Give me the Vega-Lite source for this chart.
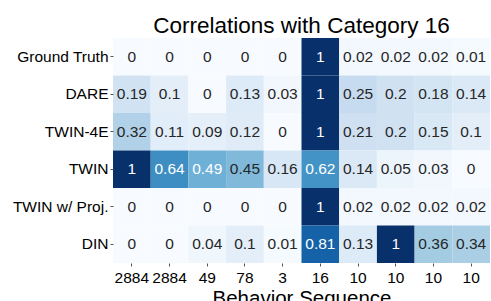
{
  "$schema": "https://vega.github.io/schema/vega-lite/v6.json",
  "autosize": "none",
  "padding": {"left": 113, "top": 38, "right": 1, "bottom": 38},
  "width": 377,
  "height": 225,
  "title": {"text": "Correlations with Category 16", "font": "Liberation Sans", "fontSize": 22.5, "fontWeight": "normal", "color": "black", "offset": 1},
  "config": {
    "view": {"stroke": null},
    "font": "Liberation Sans",
    "axis": {"domain": false, "labelFont": "Liberation Sans", "labelFontSize": 15.5, "labelColor": "black", "tickColor": "#555", "tickSize": 3, "labelPadding": 4, "titleFont": "Liberation Sans", "titleFontWeight": "normal", "titleColor": "black"}
  },
  "data": {"values": [
    {"model": "Ground Truth", "col": 0, "v": 0}, {"model": "Ground Truth", "col": 1, "v": 0}, {"model": "Ground Truth", "col": 2, "v": 0}, {"model": "Ground Truth", "col": 3, "v": 0}, {"model": "Ground Truth", "col": 4, "v": 0}, {"model": "Ground Truth", "col": 5, "v": 1}, {"model": "Ground Truth", "col": 6, "v": 0.02}, {"model": "Ground Truth", "col": 7, "v": 0.02}, {"model": "Ground Truth", "col": 8, "v": 0.02}, {"model": "Ground Truth", "col": 9, "v": 0.01},
    {"model": "DARE", "col": 0, "v": 0.19}, {"model": "DARE", "col": 1, "v": 0.1}, {"model": "DARE", "col": 2, "v": 0}, {"model": "DARE", "col": 3, "v": 0.13}, {"model": "DARE", "col": 4, "v": 0.03}, {"model": "DARE", "col": 5, "v": 1}, {"model": "DARE", "col": 6, "v": 0.25}, {"model": "DARE", "col": 7, "v": 0.2}, {"model": "DARE", "col": 8, "v": 0.18}, {"model": "DARE", "col": 9, "v": 0.14},
    {"model": "TWIN-4E", "col": 0, "v": 0.32}, {"model": "TWIN-4E", "col": 1, "v": 0.11}, {"model": "TWIN-4E", "col": 2, "v": 0.09}, {"model": "TWIN-4E", "col": 3, "v": 0.12}, {"model": "TWIN-4E", "col": 4, "v": 0}, {"model": "TWIN-4E", "col": 5, "v": 1}, {"model": "TWIN-4E", "col": 6, "v": 0.21}, {"model": "TWIN-4E", "col": 7, "v": 0.2}, {"model": "TWIN-4E", "col": 8, "v": 0.15}, {"model": "TWIN-4E", "col": 9, "v": 0.1},
    {"model": "TWIN", "col": 0, "v": 1}, {"model": "TWIN", "col": 1, "v": 0.64}, {"model": "TWIN", "col": 2, "v": 0.49}, {"model": "TWIN", "col": 3, "v": 0.45}, {"model": "TWIN", "col": 4, "v": 0.16}, {"model": "TWIN", "col": 5, "v": 0.62}, {"model": "TWIN", "col": 6, "v": 0.14}, {"model": "TWIN", "col": 7, "v": 0.05}, {"model": "TWIN", "col": 8, "v": 0.03}, {"model": "TWIN", "col": 9, "v": 0},
    {"model": "TWIN w/ Proj.", "col": 0, "v": 0}, {"model": "TWIN w/ Proj.", "col": 1, "v": 0}, {"model": "TWIN w/ Proj.", "col": 2, "v": 0}, {"model": "TWIN w/ Proj.", "col": 3, "v": 0}, {"model": "TWIN w/ Proj.", "col": 4, "v": 0}, {"model": "TWIN w/ Proj.", "col": 5, "v": 1}, {"model": "TWIN w/ Proj.", "col": 6, "v": 0.02}, {"model": "TWIN w/ Proj.", "col": 7, "v": 0.02}, {"model": "TWIN w/ Proj.", "col": 8, "v": 0.02}, {"model": "TWIN w/ Proj.", "col": 9, "v": 0.02},
    {"model": "DIN", "col": 0, "v": 0}, {"model": "DIN", "col": 1, "v": 0}, {"model": "DIN", "col": 2, "v": 0.04}, {"model": "DIN", "col": 3, "v": 0.1}, {"model": "DIN", "col": 4, "v": 0.01}, {"model": "DIN", "col": 5, "v": 0.81}, {"model": "DIN", "col": 6, "v": 0.13}, {"model": "DIN", "col": 7, "v": 1}, {"model": "DIN", "col": 8, "v": 0.36}, {"model": "DIN", "col": 9, "v": 0.34}
  ]},
  "encoding": {
    "x": {"field": "col", "type": "ordinal", "scale": {"paddingInner": 0, "paddingOuter": 0},
      "axis": {"title": "Behavior Sequence", "titleFontSize": 20.5, "titlePadding": 3, "labelAngle": 0,
        "labelExpr": "['2884','2884','49','78','3','16','10','10','10','10'][datum.value]"}},
    "y": {"field": "model", "type": "nominal", "sort": ["Ground Truth", "DARE", "TWIN-4E", "TWIN", "TWIN w/ Proj.", "DIN"],
      "scale": {"paddingInner": 0, "paddingOuter": 0}, "axis": {"title": null, "labelPadding": 2}}
  },
  "layer": [
    {"mark": {"type": "rect", "strokeWidth": 0},
      "encoding": {"color": {"field": "v", "type": "quantitative", "legend": null,
        "scale": {"domain": [0, 0.125, 0.25, 0.375, 0.5, 0.625, 0.75, 0.875, 1],
          "range": ["#f7fbff", "#deebf7", "#c6dbef", "#9ecae1", "#6baed6", "#4292c6", "#2171b5", "#08519c", "#08306b"]}}}},
    {"mark": {"type": "text", "fontSize": 15.5, "font": "Liberation Sans"},
      "encoding": {"text": {"field": "v", "type": "quantitative", "format": ".2~f"},
        "color": {"condition": {"test": "datum.v > 0.47", "value": "white"}, "value": "#262626"}}}
  ]
}
